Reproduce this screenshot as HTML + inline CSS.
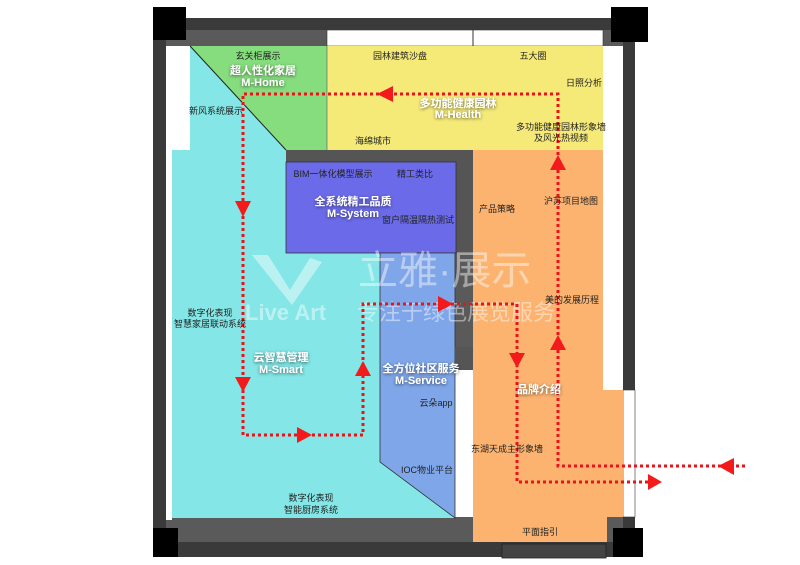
<!DOCTYPE html>
<html><head><meta charset="utf-8"><style>
html,body{margin:0;padding:0;background:#fff;}
svg{display:block;}
text{font-family:"Liberation Sans","Noto Sans CJK SC",sans-serif;}
.l{font-size:9px;fill:#222;text-anchor:middle;}
.t{font-size:11px;fill:#fff;font-weight:bold;text-anchor:middle;filter:url(#sh);}
</style></head><body>
<svg width="800" height="565" viewBox="0 0 800 565" xmlns="http://www.w3.org/2000/svg">
<defs>
<filter id="sh" x="-20%" y="-40%" width="140%" height="180%"><feDropShadow dx="0" dy="1" stdDeviation="1.5" flood-color="#000" flood-opacity="0.6"/></filter>
</defs>
<!-- outer walls -->
<rect x="153" y="18" width="482" height="539" fill="#3a3a3a"/>
<rect x="166" y="30" width="457" height="512" fill="#5a5a5a"/>
<!-- top white strips -->
<rect x="327" y="30" width="276" height="16" fill="#fff" stroke="#333" stroke-width="0.6"/>
<line x1="473" y1="30" x2="473" y2="46" stroke="#333"/>
<rect x="166" y="46" width="24" height="104" fill="#fff"/>
<rect x="603" y="46" width="20" height="344" fill="#fff"/>
<rect x="166" y="150" width="6" height="370" fill="#fff"/>
<rect x="623" y="390" width="12" height="127" fill="#fff" stroke="#333" stroke-width="0.6"/>
<rect x="455" y="370" width="18" height="147" fill="#fff"/>
<!-- cyan -->
<polygon points="190,46 286,150 286,253 380,253 380,462 455,518 172,518 172,150 190,150" fill="#84e6e6"/>
<!-- green -->
<polygon points="190,46 327,46 327,150 286,150" fill="#86dd7e"/>
<line x1="190" y1="46" x2="286" y2="150" stroke="#222" stroke-width="1"/>
<!-- yellow -->
<rect x="327" y="46" width="276" height="104" fill="#f5ea78"/>
<line x1="327" y1="46" x2="327" y2="150" stroke="#555" stroke-width="0.6"/>
<!-- dark wall around system -->
<rect x="286" y="150" width="187" height="12" fill="#555"/>
<rect x="456" y="150" width="17" height="103" fill="#555"/>
<!-- system -->
<rect x="286" y="162" width="170" height="91" fill="#6b6bea" stroke="#333" stroke-width="0.8"/>
<!-- service -->
<polygon points="380,253 455,253 455,518 380,462" fill="#7fa6e8" stroke="#333" stroke-width="0.8"/>
<!-- orange -->
<polygon points="473,150 603,150 603,390 623,390 623,517 607,517 607,542 473,542 473,370 473,253" fill="#fcb370"/>
<rect x="455" y="347" width="18" height="23" fill="#555"/>
<!-- bottom -->
<rect x="166" y="520" width="289" height="22" fill="#5a5a5a"/>
<rect x="153" y="542" width="482" height="15" fill="#3a3a3a"/>
<rect x="502" y="544" width="104" height="14" fill="#444" stroke="#222" stroke-width="0.8"/>
<!-- black corner blocks -->
<rect x="153" y="7" width="33" height="33" fill="#000"/>
<rect x="611" y="7" width="37" height="35" fill="#000"/>
<rect x="153" y="528" width="25" height="29" fill="#000"/>
<rect x="613" y="528" width="30" height="29" fill="#000"/>
<!-- watermark -->
<g fill="#fff" opacity="0.45">
<text x="358" y="284" style="font-size:40px">立雅·展示</text>
<text x="357" y="320" style="font-size:22px">专注于绿色展览服务</text>
<text x="245" y="320" style="font-size:22px;font-weight:bold">Live Art</text>
<polygon points="252,255 268,255 290,290 310,258 322,262 292,305"/>
</g>
<!-- path -->
<g stroke="#e8141a" stroke-width="3" fill="none" stroke-dasharray="3 3">
<polyline points="745,466 558,466 558,94 243,94 243,435 363,435 363,304 517,304 517,482 650,482"/>
</g>
<g fill="#f21a1a">
<polygon points="718,466 734,458 734,475"/>
<polygon points="662,482 648,474 648,490"/>
<polygon points="558,335 550,350 566,350"/>
<polygon points="558,155 550,170 566,170"/>
<polygon points="377,94 393,86 393,102"/>
<polygon points="243,217 235,201 251,201"/>
<polygon points="243,392 235,377 251,377"/>
<polygon points="312,435 297,427 297,443"/>
<polygon points="363,361 355,376 371,376"/>
<polygon points="453,304 438,296 438,312"/>
<polygon points="517,368 509,353 525,353"/>
</g>
<!-- labels -->
<text class="l" x="258" y="59">玄关柜展示</text>
<text class="t" x="263" y="74">超人性化家居</text>
<text class="t" x="263" y="86">M-Home</text>
<text class="l" x="400" y="59">园林建筑沙盘</text>
<text class="l" x="533" y="59">五大圈</text>
<text class="l" x="584" y="86">日照分析</text>
<text class="t" x="458" y="107">多功能健康园林</text>
<text class="t" x="458" y="118">M-Health</text>
<text class="l" x="561" y="130">多功能健康园林形象墙</text>
<text class="l" x="561" y="141">及风光热视频</text>
<text class="l" x="373" y="144">海绵城市</text>
<text class="l" x="216" y="114">新风系统展示</text>
<text class="l" x="333" y="177">BIM一体化模型展示</text>
<text class="l" x="415" y="177">精工类比</text>
<text class="t" x="353" y="205">全系统精工品质</text>
<text class="t" x="353" y="217">M-System</text>
<text class="l" x="418" y="223">窗户隔温隔热测试</text>
<text class="l" x="497" y="212">产品策略</text>
<text class="l" x="571" y="204">沪苏项目地图</text>
<text class="l" x="572" y="303">美的发展历程</text>
<text class="t" x="539" y="393">品牌介绍</text>
<text class="l" x="507" y="452">东湖天成主形象墙</text>
<text class="l" x="540" y="535">平面指引</text>
<text class="l" x="210" y="316">数字化表现</text>
<text class="l" x="210" y="327">智慧家居联动系统</text>
<text class="t" x="281" y="361">云智慧管理</text>
<text class="t" x="281" y="373">M-Smart</text>
<text class="t" x="421" y="372">全方位社区服务</text>
<text class="t" x="421" y="384">M-Service</text>
<text class="l" x="436" y="406">云朵app</text>
<text class="l" x="427" y="473">IOC物业平台</text>
<text class="l" x="311" y="501">数字化表现</text>
<text class="l" x="311" y="513">智能厨房系统</text>
</svg>
</body></html>
